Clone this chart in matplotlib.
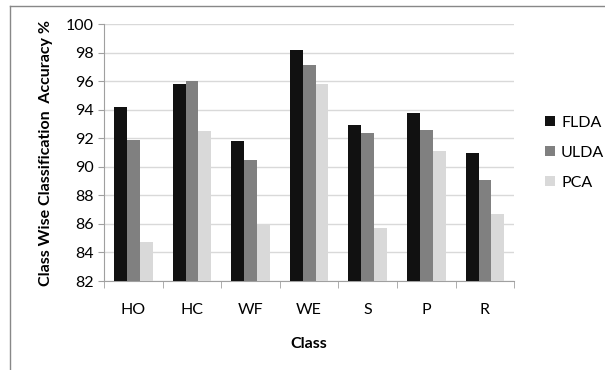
import matplotlib.pyplot as plt
import numpy as np
from matplotlib.lines import Line2D

classes = ['HO', 'HC', 'WF', 'WE', 'S', 'P', 'R']
flda = [94.2, 95.8, 91.8, 98.2, 92.9, 93.8, 91.0]
ulda = [91.9, 96.0, 90.5, 97.1, 92.4, 92.6, 89.1]
pca = [84.7, 92.5, 86.0, 95.8, 85.7, 91.1, 86.7]

plt.rcParams['font.family'] = ['Lato', 'DejaVu Sans']

fig = plt.figure(figsize=(6.05, 3.70), dpi=100)
ax = fig.add_axes([0.172, 0.2405, 0.678, 0.6945])

x = np.arange(len(classes))
w = 0.22
ax.bar(x - w, np.array(flda) - 82, w, bottom=82, color='#111111', label='FLDA', zorder=3)
ax.bar(x, np.array(ulda) - 82, w, bottom=82, color='#808080', label='ULDA', zorder=3)
ax.bar(x + w, np.array(pca) - 82, w, bottom=82, color='#d9d9d9', label='PCA', zorder=3)

ax.set_ylim(82, 100)
ax.set_xlim(-0.5, len(classes) - 0.5)
ax.set_yticks(np.arange(82, 101, 2))
ax.yaxis.grid(True, color='#d9d9d9', linewidth=1, zorder=0)
ax.set_xticks(x)
ax.set_xticklabels(classes, fontsize=11.5)
ax.set_xticks(np.arange(-0.5, len(classes)), minor=True)
ax.tick_params(axis='x', which='major', length=0, pad=16)
ax.tick_params(axis='x', which='minor', length=5, color='#a0a0a0')
ax.tick_params(axis='y', length=4, color='#a0a0a0', labelsize=11.5)
for s in ['top', 'right']:
    ax.spines[s].set_visible(False)
for s in ['left', 'bottom']:
    ax.spines[s].set_color('#a0a0a0')

ax.set_ylabel('Class Wise Classification  Accuracy %', fontsize=11.5, fontweight='bold', labelpad=9)
ax.set_xlabel('Class', fontsize=11.5, fontweight='bold', labelpad=14)

ax.legend(loc='center left', bbox_to_anchor=(1.04, 0.5), frameon=False, fontsize=11.5,
          handlelength=0.6, handleheight=0.6, handletextpad=0.4, labelspacing=1.0)

# page frame lines
fig.add_artist(Line2D([10 / 605, 10 / 605], [0, 1 - 6 / 370], color='#888888', linewidth=1))
fig.add_artist(Line2D([10 / 605, 1], [1 - 6 / 370, 1 - 6 / 370], color='#888888', linewidth=1))

fig.savefig('out.png', dpi=100)
